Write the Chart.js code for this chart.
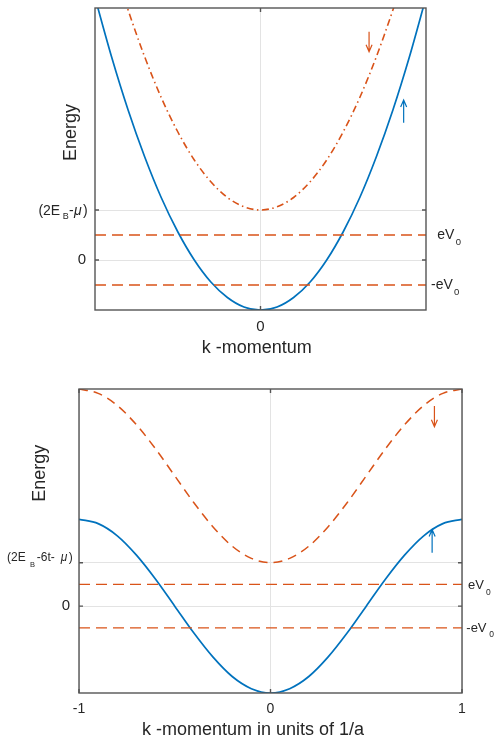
<!DOCTYPE html>
<html><head><meta charset="utf-8">
<script src="https://cdn.jsdelivr.net/npm/chart.js@4.4.1/dist/chart.umd.min.js"></script>
<style>
html,body{margin:0;padding:0;background:#fff;}
#wrap{position:relative;width:495px;height:739px;overflow:hidden;background:#fff;}
.box{position:absolute;left:0;width:495px;}
</style></head><body>
<div id="wrap">
<div class="box" style="top:0;height:370px"><canvas id="c1" width="495" height="370"></canvas></div>
<div class="box" style="top:370px;height:369px"><canvas id="c2" width="495" height="369"></canvas></div>
</div>
<script>
// ---------- data ----------
// Top panel: free-particle bands
const kTop        = [-1,-0.9,-0.8,-0.7,-0.6,-0.5,-0.4,-0.3,-0.2,-0.1,0,0.1,0.2,0.3,0.4,0.5,0.6,0.7,0.8,0.9,1];
const spinUpTop   = [10.5,8.13,6.0,4.13,2.5,1.13,0,-0.88,-1.5,-1.88,-2,-1.88,-1.5,-0.88,0,1.13,2.5,4.13,6.0,8.13,10.5];
const kTopDown    = [-0.85,-0.8,-0.7,-0.6,-0.5,-0.4,-0.3,-0.2,-0.1,0,0.1,0.2,0.3,0.4,0.5,0.6,0.7,0.8,0.85];
const spinDownTop = [11.03,10,8.13,6.5,5.13,4,3.13,2.5,2.13,2,2.13,2.5,3.13,4,5.13,6.5,8.13,10,11.03];
// Bottom panel: lattice bands
const kBottom        = [-1,-0.9,-0.8,-0.7,-0.6,-0.5,-0.4,-0.3,-0.2,-0.1,0,0.1,0.2,0.3,0.4,0.5,0.6,0.7,0.8,0.9,1];
const spinUpBottom   = [4,3.80,3.24,2.35,1.24,0,-1.24,-2.35,-3.24,-3.80,-4,-3.80,-3.24,-2.35,-1.24,0,1.24,2.35,3.24,3.80,4];
const spinDownBottom = [10,9.80,9.24,8.35,7.24,6,4.76,3.65,2.76,2.20,2,2.20,2.76,3.65,4.76,6,7.24,8.35,9.24,9.80,10];
// Bias levels +eV0 / -eV0
const levelK     = [-1, 1];
const levelPlus  = [1, 1];
const levelMinus = [-1, -1];
// Tick values
const xTicksTop    = [0];
const xTicksBottom = [-1, 0, 1];
const yTicks       = [0, 2];
// Spin arrows: k position, tail energy, tip energy
const arrowTopK    = [0.656, 0.865];
const arrowTopFrom = [9.13, 5.49];
const arrowTopTo   = [8.33, 6.40];
const arrowBotK    = [0.856, 0.844];
const arrowBotFrom = [9.22, 2.46];
const arrowBotTo   = [8.26, 3.53];
// Text
const yTitle = 'Energy';
const xTitleTop = 'k -momentum';
const xTitleBottom = 'k -momentum in units of 1/a';

// ---------- styles ----------
const C_UP = '#0072BD', C_DN = '#D95319', TXT = '#262626', GRID = '#e3e3e3', AX = '#555555';
const FONT = '"Liberation Sans", Arial, Helvetica, sans-serif';
const pts = (xs, ys) => xs.map((x, i) => ({x, y: ys[i]}));

function drawRich(ctx, parts, x, y, align) {
  let total = 0;
  parts.forEach(p => {
    ctx.font = (p.it ? 'italic ' : '') + p.s + 'px ' + FONT;
    p.w = ctx.measureText(p.t).width;
    total += p.w + (p.g || 0);
  });
  let cx = align === 'right' ? x - total : x;
  ctx.textAlign = 'left'; ctx.textBaseline = 'alphabetic'; ctx.fillStyle = TXT;
  parts.forEach(p => {
    cx += (p.g || 0);
    ctx.font = (p.it ? 'italic ' : '') + p.s + 'px ' + FONT;
    ctx.fillText(p.t, cx, y + (p.dy || 0));
    cx += p.w;
  });
}

function drawArrow(ctx, x, y0, y1, color) {
  const dir = Math.sign(y1 - y0);
  ctx.save();
  ctx.strokeStyle = color; ctx.lineWidth = 1.2; ctx.setLineDash([]);
  ctx.beginPath();
  ctx.moveTo(x, y0); ctx.lineTo(x, y1);
  ctx.moveTo(x - 3, y1 - dir * 7); ctx.lineTo(x, y1); ctx.lineTo(x + 3, y1 - dir * 7);
  ctx.stroke();
  ctx.restore();
}

const decor = {
  id: 'decor',
  afterDraw(chart, args, o) {
    const ctx = chart.ctx, a = chart.chartArea, xs = chart.scales.x, ys = chart.scales.y;
    ctx.save();
    // arrows
    o.arrK.forEach((k, i) => {
      drawArrow(ctx, xs.getPixelForValue(k), ys.getPixelForValue(o.arrFrom[i]), ys.getPixelForValue(o.arrTo[i]), i === 0 ? C_DN : C_UP);
    });
    // axes box
    ctx.strokeStyle = AX; ctx.lineWidth = 1.4; ctx.setLineDash([]);
    ctx.strokeRect(a.left, a.top, a.right - a.left, a.bottom - a.top);
    // inward tick marks
    ctx.beginPath();
    yTicks.forEach(v => {
      const py = ys.getPixelForValue(v);
      ctx.moveTo(a.left, py); ctx.lineTo(a.left + 4, py);
      ctx.moveTo(a.right, py); ctx.lineTo(a.right - 4, py);
    });
    o.xt.forEach(v => {
      const px = xs.getPixelForValue(v);
      ctx.moveTo(px, a.bottom); ctx.lineTo(px, a.bottom - 4);
      ctx.moveTo(px, a.top); ctx.lineTo(px, a.top + 4);
    });
    ctx.stroke();
    // y tick label with subscript
    drawRich(ctx, o.rich, a.left - o.richGap, ys.getPixelForValue(2) + o.richDy, 'right');
    // level labels
    drawRich(ctx, o.eTop, a.right + o.eTopDx, ys.getPixelForValue(1) + o.eTopDy, 'left');
    drawRich(ctx, o.eBot, a.right + o.eBotDx, ys.getPixelForValue(-1) + o.eBotDy, 'left');
    // axis titles
    ctx.fillStyle = TXT; ctx.font = '18px ' + FONT;
    ctx.textAlign = 'center'; ctx.textBaseline = 'alphabetic';
    ctx.fillText(o.xTitle, o.xTitleX, o.xTitleY);
    ctx.save();
    ctx.translate(o.yTitleX, o.yTitleY); ctx.rotate(-Math.PI / 2);
    ctx.fillText(yTitle, 0, 0);
    ctx.restore();
    ctx.restore();
  }
};

function makeChart(id, cfg) {
  return new Chart(document.getElementById(id), {
    type: 'line',
    data: { datasets: cfg.datasets },
    plugins: [decor],
    options: {
      responsive: false, animation: false,
      layout: { autoPadding: false, padding: cfg.padding },
      elements: { point: { radius: 0 } },
      plugins: { legend: { display: false }, tooltip: { enabled: false }, decor: cfg.decor },
      scales: {
        x: {
          type: 'linear', min: -1, max: 1,
          afterFit: s => { s.height = cfg.xH; s.paddingLeft = 0; s.paddingRight = 0; s.paddingTop = 0; s.paddingBottom = 0; },
          afterBuildTicks: s => { s.ticks = cfg.xt.map(v => ({value: v})); },
          grid: { color: GRID, lineWidth: 1, drawTicks: false },
          border: { display: false },
          ticks: { autoSkip: false, maxRotation: 0, padding: cfg.xPad, color: TXT,
                   font: { family: FONT, size: cfg.xFont }, callback: v => String(v) }
        },
        y: {
          type: 'linear', min: cfg.yMin, max: cfg.yMax,
          afterFit: s => { s.width = cfg.yW; s.paddingTop = 0; s.paddingBottom = 0; s.paddingLeft = 0; s.paddingRight = 0; },
          afterBuildTicks: s => { s.ticks = yTicks.map(v => ({value: v})); },
          grid: { color: GRID, lineWidth: 1, drawTicks: false },
          border: { display: false },
          ticks: { autoSkip: false, padding: 9, color: TXT, font: { family: FONT, size: 15 },
                   callback: v => (v === 0 ? '0' : '') }
        }
      }
    }
  });
}

const lineDs = (data, color, dash, w) => ({
  data, borderColor: color, borderWidth: w, borderDash: dash, fill: false,
  cubicInterpolationMode: 'monotone', pointRadius: 0
});

makeChart('c1', {
  padding: { top: 8, left: 0, right: 69, bottom: 0 },
  xH: 60, yW: 95, yMin: -2, yMax: 10.08, xt: xTicksTop, xPad: 8, xFont: 15,
  datasets: [
    lineDs(pts(levelK, levelPlus), C_DN, [11, 6], 1.3),
    lineDs(pts(levelK, levelMinus), C_DN, [11, 6], 1.3),
    lineDs(pts(kTop, spinUpTop), C_UP, [], 1.7),
    lineDs(pts(kTopDown, spinDownTop), C_DN, [7, 3.5, 1.5, 3.5], 1.6)
  ],
  decor: {
    xt: xTicksTop, arrK: arrowTopK, arrFrom: arrowTopFrom, arrTo: arrowTopTo,
    rich: [{t:'(2E', s:14}, {t:'B', s:9, dy:4.3, g:2.6}, {t:'-', s:14, g:0.3}, {t:'\u03BC', s:14, it:true, g:0.3}, {t:')', s:14, g:1.3}],
    richGap: 7.3, richDy: 5,
    eTop: [{t:'eV', s:14}, {t:'0', s:9.5, dy:5.7, g:1.3}], eTopDx: 11.3, eTopDy: 4.3,
    eBot: [{t:'-eV', s:14}, {t:'0', s:9.5, dy:5.7, g:1.3}], eBotDx: 5, eBotDy: 4.3,
    xTitle: xTitleTop, xTitleX: 256.7, xTitleY: 353,
    yTitleX: 76.2, yTitleY: 132.5
  }
});

makeChart('c2', {
  padding: { top: 19, left: 0, right: 33, bottom: 0 },
  xH: 46, yW: 79, yMin: -4, yMax: 10, xt: xTicksBottom, xPad: 8, xFont: 14,
  datasets: [
    lineDs(pts(levelK, levelPlus), C_DN, [11, 6], 1.3),
    lineDs(pts(levelK, levelMinus), C_DN, [11, 6], 1.3),
    lineDs(pts(kBottom, spinUpBottom), C_UP, [], 1.7),
    lineDs(pts(kBottom, spinDownBottom), C_DN, [9, 6], 1.5)
  ],
  decor: {
    xt: xTicksBottom, arrK: arrowBotK, arrFrom: arrowBotFrom, arrTo: arrowBotTo,
    rich: [{t:'(2E', s:12}, {t:'B', s:7.5, dy:6, g:4.3}, {t:'-6t-', s:12, g:1.7}, {t:'\u03BC', s:12, it:true, g:6}, {t:')', s:12, g:1.4}],
    richGap: 6.3, richDy: -2,
    eTop: [{t:'eV', s:13}, {t:'0', s:8.5, dy:5.7, g:2}], eTopDx: 6, eTopDy: 5,
    eBot: [{t:'-eV', s:13}, {t:'0', s:8.5, dy:5, g:2.8}], eBotDx: 4.3, eBotDy: 4,
    xTitle: xTitleBottom, xTitleX: 253, xTitleY: 365,
    yTitleX: 44.6, yTitleY: 103.3
  }
});
</script>
</body></html>
